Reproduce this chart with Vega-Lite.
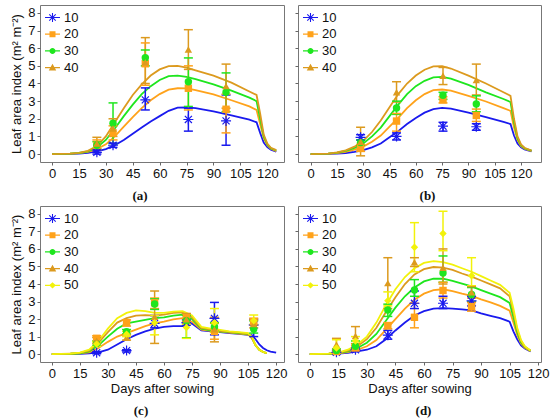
{
  "$schema": "https://vega.github.io/schema/vega-lite/v6.json",
  "background": "white",
  "padding": {"left": 10, "top": 4, "right": 5, "bottom": 2},
  "datasets": {
    "sim": [
      {"p":"a","c":"10","d":0,"v":0},{"p":"a","c":"10","d":10,"v":0.01},{"p":"a","c":"10","d":15,"v":0.03},{"p":"a","c":"10","d":20,"v":0.07},{"p":"a","c":"10","d":25,"v":0.15},{"p":"a","c":"10","d":30,"v":0.28},{"p":"a","c":"10","d":35,"v":0.5},{"p":"a","c":"10","d":40,"v":0.8},{"p":"a","c":"10","d":45,"v":1.15},{"p":"a","c":"10","d":50,"v":1.5},{"p":"a","c":"10","d":55,"v":1.85},{"p":"a","c":"10","d":60,"v":2.15},{"p":"a","c":"10","d":65,"v":2.45},{"p":"a","c":"10","d":70,"v":2.63},{"p":"a","c":"10","d":75,"v":2.65},{"p":"a","c":"10","d":80,"v":2.6},{"p":"a","c":"10","d":90,"v":2.42},{"p":"a","c":"10","d":100,"v":2.2},{"p":"a","c":"10","d":110,"v":1.95},{"p":"a","c":"10","d":114,"v":1.8},{"p":"a","c":"10","d":116,"v":1.2},{"p":"a","c":"10","d":118,"v":0.65},{"p":"a","c":"10","d":120,"v":0.4},{"p":"a","c":"10","d":122,"v":0.25},{"p":"a","c":"10","d":125,"v":0.13},
      {"p":"a","c":"20","d":0,"v":0},{"p":"a","c":"20","d":10,"v":0.02},{"p":"a","c":"20","d":15,"v":0.05},{"p":"a","c":"20","d":20,"v":0.12},{"p":"a","c":"20","d":25,"v":0.28},{"p":"a","c":"20","d":30,"v":0.55},{"p":"a","c":"20","d":35,"v":1.0},{"p":"a","c":"20","d":40,"v":1.55},{"p":"a","c":"20","d":45,"v":2.1},{"p":"a","c":"20","d":50,"v":2.6},{"p":"a","c":"20","d":55,"v":3.05},{"p":"a","c":"20","d":60,"v":3.4},{"p":"a","c":"20","d":65,"v":3.65},{"p":"a","c":"20","d":70,"v":3.73},{"p":"a","c":"20","d":75,"v":3.72},{"p":"a","c":"20","d":80,"v":3.62},{"p":"a","c":"20","d":90,"v":3.38},{"p":"a","c":"20","d":100,"v":3.05},{"p":"a","c":"20","d":110,"v":2.7},{"p":"a","c":"20","d":114,"v":2.5},{"p":"a","c":"20","d":116,"v":1.7},{"p":"a","c":"20","d":118,"v":0.9},{"p":"a","c":"20","d":120,"v":0.5},{"p":"a","c":"20","d":122,"v":0.3},{"p":"a","c":"20","d":125,"v":0.17},
      {"p":"a","c":"30","d":0,"v":0},{"p":"a","c":"30","d":10,"v":0.02},{"p":"a","c":"30","d":15,"v":0.06},{"p":"a","c":"30","d":20,"v":0.15},{"p":"a","c":"30","d":25,"v":0.38},{"p":"a","c":"30","d":30,"v":0.8},{"p":"a","c":"30","d":35,"v":1.45},{"p":"a","c":"30","d":40,"v":2.15},{"p":"a","c":"30","d":45,"v":2.8},{"p":"a","c":"30","d":50,"v":3.4},{"p":"a","c":"30","d":55,"v":3.85},{"p":"a","c":"30","d":60,"v":4.2},{"p":"a","c":"30","d":65,"v":4.42},{"p":"a","c":"30","d":70,"v":4.45},{"p":"a","c":"30","d":75,"v":4.38},{"p":"a","c":"30","d":80,"v":4.25},{"p":"a","c":"30","d":90,"v":3.95},{"p":"a","c":"30","d":100,"v":3.6},{"p":"a","c":"30","d":110,"v":3.2},{"p":"a","c":"30","d":114,"v":3.0},{"p":"a","c":"30","d":116,"v":2.0},{"p":"a","c":"30","d":118,"v":1.0},{"p":"a","c":"30","d":120,"v":0.55},{"p":"a","c":"30","d":122,"v":0.33},{"p":"a","c":"30","d":125,"v":0.2},
      {"p":"a","c":"40","d":0,"v":0},{"p":"a","c":"40","d":10,"v":0.03},{"p":"a","c":"40","d":15,"v":0.07},{"p":"a","c":"40","d":20,"v":0.18},{"p":"a","c":"40","d":25,"v":0.45},{"p":"a","c":"40","d":30,"v":1.0},{"p":"a","c":"40","d":35,"v":1.8},{"p":"a","c":"40","d":40,"v":2.6},{"p":"a","c":"40","d":45,"v":3.35},{"p":"a","c":"40","d":50,"v":3.95},{"p":"a","c":"40","d":55,"v":4.45},{"p":"a","c":"40","d":60,"v":4.8},{"p":"a","c":"40","d":65,"v":4.98},{"p":"a","c":"40","d":70,"v":5.0},{"p":"a","c":"40","d":75,"v":4.9},{"p":"a","c":"40","d":80,"v":4.75},{"p":"a","c":"40","d":90,"v":4.45},{"p":"a","c":"40","d":100,"v":4.05},{"p":"a","c":"40","d":110,"v":3.55},{"p":"a","c":"40","d":114,"v":3.35},{"p":"a","c":"40","d":116,"v":2.3},{"p":"a","c":"40","d":118,"v":1.1},{"p":"a","c":"40","d":120,"v":0.6},{"p":"a","c":"40","d":122,"v":0.36},{"p":"a","c":"40","d":125,"v":0.22},
      {"p":"b","c":"10","d":0,"v":0},{"p":"b","c":"10","d":10,"v":0.01},{"p":"b","c":"10","d":15,"v":0.03},{"p":"b","c":"10","d":20,"v":0.06},{"p":"b","c":"10","d":25,"v":0.12},{"p":"b","c":"10","d":30,"v":0.22},{"p":"b","c":"10","d":35,"v":0.38},{"p":"b","c":"10","d":40,"v":0.6},{"p":"b","c":"10","d":45,"v":0.95},{"p":"b","c":"10","d":50,"v":1.3},{"p":"b","c":"10","d":55,"v":1.7},{"p":"b","c":"10","d":60,"v":2.05},{"p":"b","c":"10","d":65,"v":2.35},{"p":"b","c":"10","d":70,"v":2.55},{"p":"b","c":"10","d":75,"v":2.62},{"p":"b","c":"10","d":80,"v":2.58},{"p":"b","c":"10","d":90,"v":2.35},{"p":"b","c":"10","d":100,"v":2.1},{"p":"b","c":"10","d":110,"v":1.82},{"p":"b","c":"10","d":114,"v":1.7},{"p":"b","c":"10","d":116,"v":1.05},{"p":"b","c":"10","d":118,"v":0.6},{"p":"b","c":"10","d":120,"v":0.38},{"p":"b","c":"10","d":122,"v":0.27},{"p":"b","c":"10","d":126,"v":0.15},
      {"p":"b","c":"20","d":0,"v":0},{"p":"b","c":"20","d":10,"v":0.02},{"p":"b","c":"20","d":15,"v":0.06},{"p":"b","c":"20","d":20,"v":0.13},{"p":"b","c":"20","d":25,"v":0.25},{"p":"b","c":"20","d":30,"v":0.42},{"p":"b","c":"20","d":35,"v":0.7},{"p":"b","c":"20","d":40,"v":1.05},{"p":"b","c":"20","d":45,"v":1.55},{"p":"b","c":"20","d":50,"v":2.05},{"p":"b","c":"20","d":55,"v":2.6},{"p":"b","c":"20","d":60,"v":3.05},{"p":"b","c":"20","d":65,"v":3.4},{"p":"b","c":"20","d":70,"v":3.62},{"p":"b","c":"20","d":75,"v":3.66},{"p":"b","c":"20","d":80,"v":3.6},{"p":"b","c":"20","d":90,"v":3.3},{"p":"b","c":"20","d":100,"v":2.98},{"p":"b","c":"20","d":110,"v":2.6},{"p":"b","c":"20","d":114,"v":2.45},{"p":"b","c":"20","d":116,"v":1.5},{"p":"b","c":"20","d":118,"v":0.8},{"p":"b","c":"20","d":120,"v":0.45},{"p":"b","c":"20","d":122,"v":0.3},{"p":"b","c":"20","d":126,"v":0.17},
      {"p":"b","c":"30","d":0,"v":0},{"p":"b","c":"30","d":10,"v":0.03},{"p":"b","c":"30","d":15,"v":0.08},{"p":"b","c":"30","d":20,"v":0.18},{"p":"b","c":"30","d":25,"v":0.35},{"p":"b","c":"30","d":30,"v":0.6},{"p":"b","c":"30","d":35,"v":1.0},{"p":"b","c":"30","d":40,"v":1.5},{"p":"b","c":"30","d":45,"v":2.15},{"p":"b","c":"30","d":50,"v":2.8},{"p":"b","c":"30","d":55,"v":3.4},{"p":"b","c":"30","d":60,"v":3.85},{"p":"b","c":"30","d":65,"v":4.15},{"p":"b","c":"30","d":70,"v":4.35},{"p":"b","c":"30","d":75,"v":4.38},{"p":"b","c":"30","d":80,"v":4.28},{"p":"b","c":"30","d":90,"v":3.92},{"p":"b","c":"30","d":100,"v":3.5},{"p":"b","c":"30","d":110,"v":3.12},{"p":"b","c":"30","d":114,"v":2.95},{"p":"b","c":"30","d":116,"v":1.8},{"p":"b","c":"30","d":118,"v":0.9},{"p":"b","c":"30","d":120,"v":0.5},{"p":"b","c":"30","d":122,"v":0.33},{"p":"b","c":"30","d":126,"v":0.19},
      {"p":"b","c":"40","d":0,"v":0},{"p":"b","c":"40","d":10,"v":0.03},{"p":"b","c":"40","d":15,"v":0.09},{"p":"b","c":"40","d":20,"v":0.21},{"p":"b","c":"40","d":25,"v":0.42},{"p":"b","c":"40","d":30,"v":0.75},{"p":"b","c":"40","d":35,"v":1.25},{"p":"b","c":"40","d":40,"v":1.9},{"p":"b","c":"40","d":45,"v":2.65},{"p":"b","c":"40","d":50,"v":3.4},{"p":"b","c":"40","d":55,"v":4.0},{"p":"b","c":"40","d":60,"v":4.45},{"p":"b","c":"40","d":65,"v":4.78},{"p":"b","c":"40","d":70,"v":4.97},{"p":"b","c":"40","d":75,"v":4.98},{"p":"b","c":"40","d":80,"v":4.85},{"p":"b","c":"40","d":90,"v":4.45},{"p":"b","c":"40","d":100,"v":4.0},{"p":"b","c":"40","d":110,"v":3.5},{"p":"b","c":"40","d":114,"v":3.3},{"p":"b","c":"40","d":116,"v":2.0},{"p":"b","c":"40","d":118,"v":1.0},{"p":"b","c":"40","d":120,"v":0.55},{"p":"b","c":"40","d":122,"v":0.36},{"p":"b","c":"40","d":126,"v":0.2},
      {"p":"c","c":"10","d":0,"v":0},{"p":"c","c":"10","d":10,"v":0.01},{"p":"c","c":"10","d":15,"v":0.02},{"p":"c","c":"10","d":20,"v":0.05},{"p":"c","c":"10","d":25,"v":0.1},{"p":"c","c":"10","d":30,"v":0.25},{"p":"c","c":"10","d":35,"v":0.55},{"p":"c","c":"10","d":40,"v":0.85},{"p":"c","c":"10","d":45,"v":1.1},{"p":"c","c":"10","d":50,"v":1.3},{"p":"c","c":"10","d":55,"v":1.45},{"p":"c","c":"10","d":60,"v":1.55},{"p":"c","c":"10","d":65,"v":1.6},{"p":"c","c":"10","d":70,"v":1.6},{"p":"c","c":"10","d":75,"v":1.75},{"p":"c","c":"10","d":80,"v":1.35},{"p":"c","c":"10","d":85,"v":1.3},{"p":"c","c":"10","d":90,"v":1.25},{"p":"c","c":"10","d":95,"v":1.2},{"p":"c","c":"10","d":100,"v":1.15},{"p":"c","c":"10","d":105,"v":1.1},{"p":"c","c":"10","d":107,"v":1.08},{"p":"c","c":"10","d":109,"v":0.85},{"p":"c","c":"10","d":111,"v":0.55},{"p":"c","c":"10","d":113,"v":0.35},{"p":"c","c":"10","d":115,"v":0.22},{"p":"c","c":"10","d":117,"v":0.14},{"p":"c","c":"10","d":120,"v":0.08},
      {"p":"c","c":"20","d":0,"v":0},{"p":"c","c":"20","d":10,"v":0.02},{"p":"c","c":"20","d":15,"v":0.04},{"p":"c","c":"20","d":20,"v":0.1},{"p":"c","c":"20","d":25,"v":0.35},{"p":"c","c":"20","d":30,"v":0.7},{"p":"c","c":"20","d":35,"v":1.0},{"p":"c","c":"20","d":40,"v":1.2},{"p":"c","c":"20","d":45,"v":1.4},{"p":"c","c":"20","d":50,"v":1.6},{"p":"c","c":"20","d":55,"v":1.75},{"p":"c","c":"20","d":60,"v":1.85},{"p":"c","c":"20","d":65,"v":1.98},{"p":"c","c":"20","d":70,"v":2.05},{"p":"c","c":"20","d":75,"v":1.85},{"p":"c","c":"20","d":80,"v":1.4},{"p":"c","c":"20","d":85,"v":1.32},{"p":"c","c":"20","d":90,"v":1.28},{"p":"c","c":"20","d":95,"v":1.22},{"p":"c","c":"20","d":100,"v":1.17},{"p":"c","c":"20","d":105,"v":1.12},{"p":"c","c":"20","d":107,"v":0.9},{"p":"c","c":"20","d":109,"v":0.5},{"p":"c","c":"20","d":111,"v":0.25},{"p":"c","c":"20","d":113,"v":0.12},{"p":"c","c":"20","d":115,"v":0.06},
      {"p":"c","c":"30","d":0,"v":0},{"p":"c","c":"30","d":10,"v":0.02},{"p":"c","c":"30","d":15,"v":0.05},{"p":"c","c":"30","d":20,"v":0.15},{"p":"c","c":"30","d":25,"v":0.5},{"p":"c","c":"30","d":30,"v":1.0},{"p":"c","c":"30","d":35,"v":1.45},{"p":"c","c":"30","d":40,"v":1.75},{"p":"c","c":"30","d":45,"v":1.85},{"p":"c","c":"30","d":50,"v":1.95},{"p":"c","c":"30","d":55,"v":2.05},{"p":"c","c":"30","d":60,"v":2.1},{"p":"c","c":"30","d":65,"v":2.2},{"p":"c","c":"30","d":70,"v":2.25},{"p":"c","c":"30","d":75,"v":2.0},{"p":"c","c":"30","d":80,"v":1.45},{"p":"c","c":"30","d":85,"v":1.35},{"p":"c","c":"30","d":90,"v":1.3},{"p":"c","c":"30","d":95,"v":1.25},{"p":"c","c":"30","d":100,"v":1.2},{"p":"c","c":"30","d":105,"v":1.15},{"p":"c","c":"30","d":107,"v":0.95},{"p":"c","c":"30","d":109,"v":0.5},{"p":"c","c":"30","d":111,"v":0.25},{"p":"c","c":"30","d":113,"v":0.12},{"p":"c","c":"30","d":115,"v":0.06},
      {"p":"c","c":"40","d":0,"v":0},{"p":"c","c":"40","d":10,"v":0.03},{"p":"c","c":"40","d":15,"v":0.07},{"p":"c","c":"40","d":20,"v":0.2},{"p":"c","c":"40","d":25,"v":0.65},{"p":"c","c":"40","d":30,"v":1.25},{"p":"c","c":"40","d":35,"v":1.8},{"p":"c","c":"40","d":40,"v":2.05},{"p":"c","c":"40","d":45,"v":2.2},{"p":"c","c":"40","d":50,"v":2.22},{"p":"c","c":"40","d":55,"v":2.2},{"p":"c","c":"40","d":60,"v":2.25},{"p":"c","c":"40","d":65,"v":2.35},{"p":"c","c":"40","d":70,"v":2.38},{"p":"c","c":"40","d":75,"v":2.1},{"p":"c","c":"40","d":80,"v":1.5},{"p":"c","c":"40","d":85,"v":1.4},{"p":"c","c":"40","d":90,"v":1.33},{"p":"c","c":"40","d":95,"v":1.27},{"p":"c","c":"40","d":100,"v":1.22},{"p":"c","c":"40","d":105,"v":1.17},{"p":"c","c":"40","d":107,"v":0.95},{"p":"c","c":"40","d":109,"v":0.5},{"p":"c","c":"40","d":111,"v":0.25},{"p":"c","c":"40","d":113,"v":0.12},{"p":"c","c":"40","d":115,"v":0.06},
      {"p":"c","c":"50","d":0,"v":0},{"p":"c","c":"50","d":10,"v":0.03},{"p":"c","c":"50","d":15,"v":0.08},{"p":"c","c":"50","d":20,"v":0.25},{"p":"c","c":"50","d":25,"v":0.75},{"p":"c","c":"50","d":30,"v":1.45},{"p":"c","c":"50","d":35,"v":2.05},{"p":"c","c":"50","d":40,"v":2.35},{"p":"c","c":"50","d":45,"v":2.5},{"p":"c","c":"50","d":50,"v":2.45},{"p":"c","c":"50","d":55,"v":2.35},{"p":"c","c":"50","d":60,"v":2.35},{"p":"c","c":"50","d":65,"v":2.42},{"p":"c","c":"50","d":70,"v":2.45},{"p":"c","c":"50","d":75,"v":2.2},{"p":"c","c":"50","d":80,"v":1.55},{"p":"c","c":"50","d":85,"v":1.45},{"p":"c","c":"50","d":90,"v":1.38},{"p":"c","c":"50","d":95,"v":1.3},{"p":"c","c":"50","d":100,"v":1.25},{"p":"c","c":"50","d":105,"v":1.2},{"p":"c","c":"50","d":107,"v":1.0},{"p":"c","c":"50","d":109,"v":0.5},{"p":"c","c":"50","d":111,"v":0.25},{"p":"c","c":"50","d":113,"v":0.12},{"p":"c","c":"50","d":115,"v":0.06},
      {"p":"d","c":"10","d":0,"v":0},{"p":"d","c":"10","d":10,"v":0.01},{"p":"d","c":"10","d":15,"v":0.03},{"p":"d","c":"10","d":20,"v":0.07},{"p":"d","c":"10","d":25,"v":0.15},{"p":"d","c":"10","d":30,"v":0.25},{"p":"d","c":"10","d":35,"v":0.45},{"p":"d","c":"10","d":40,"v":0.85},{"p":"d","c":"10","d":45,"v":1.35},{"p":"d","c":"10","d":50,"v":1.8},{"p":"d","c":"10","d":55,"v":2.2},{"p":"d","c":"10","d":60,"v":2.45},{"p":"d","c":"10","d":65,"v":2.6},{"p":"d","c":"10","d":70,"v":2.62},{"p":"d","c":"10","d":75,"v":2.6},{"p":"d","c":"10","d":80,"v":2.55},{"p":"d","c":"10","d":85,"v":2.5},{"p":"d","c":"10","d":90,"v":2.32},{"p":"d","c":"10","d":95,"v":2.18},{"p":"d","c":"10","d":100,"v":2.05},{"p":"d","c":"10","d":105,"v":1.85},{"p":"d","c":"10","d":107,"v":1.3},{"p":"d","c":"10","d":109,"v":0.85},{"p":"d","c":"10","d":111,"v":0.5},{"p":"d","c":"10","d":113,"v":0.32},{"p":"d","c":"10","d":116,"v":0.15},
      {"p":"d","c":"20","d":0,"v":0},{"p":"d","c":"20","d":10,"v":0.02},{"p":"d","c":"20","d":15,"v":0.05},{"p":"d","c":"20","d":20,"v":0.12},{"p":"d","c":"20","d":25,"v":0.25},{"p":"d","c":"20","d":30,"v":0.45},{"p":"d","c":"20","d":35,"v":0.8},{"p":"d","c":"20","d":40,"v":1.4},{"p":"d","c":"20","d":45,"v":2.0},{"p":"d","c":"20","d":50,"v":2.6},{"p":"d","c":"20","d":55,"v":3.1},{"p":"d","c":"20","d":60,"v":3.45},{"p":"d","c":"20","d":65,"v":3.65},{"p":"d","c":"20","d":70,"v":3.7},{"p":"d","c":"20","d":75,"v":3.6},{"p":"d","c":"20","d":80,"v":3.45},{"p":"d","c":"20","d":85,"v":3.32},{"p":"d","c":"20","d":90,"v":3.12},{"p":"d","c":"20","d":95,"v":2.95},{"p":"d","c":"20","d":100,"v":2.75},{"p":"d","c":"20","d":105,"v":2.48},{"p":"d","c":"20","d":107,"v":1.8},{"p":"d","c":"20","d":109,"v":1.1},{"p":"d","c":"20","d":111,"v":0.6},{"p":"d","c":"20","d":113,"v":0.36},{"p":"d","c":"20","d":116,"v":0.17},
      {"p":"d","c":"30","d":0,"v":0},{"p":"d","c":"30","d":10,"v":0.02},{"p":"d","c":"30","d":15,"v":0.06},{"p":"d","c":"30","d":20,"v":0.15},{"p":"d","c":"30","d":25,"v":0.35},{"p":"d","c":"30","d":30,"v":0.65},{"p":"d","c":"30","d":35,"v":1.15},{"p":"d","c":"30","d":40,"v":1.9},{"p":"d","c":"30","d":45,"v":2.65},{"p":"d","c":"30","d":50,"v":3.3},{"p":"d","c":"30","d":55,"v":3.8},{"p":"d","c":"30","d":60,"v":4.15},{"p":"d","c":"30","d":65,"v":4.3},{"p":"d","c":"30","d":70,"v":4.3},{"p":"d","c":"30","d":75,"v":4.18},{"p":"d","c":"30","d":80,"v":4.02},{"p":"d","c":"30","d":85,"v":3.86},{"p":"d","c":"30","d":90,"v":3.65},{"p":"d","c":"30","d":95,"v":3.45},{"p":"d","c":"30","d":100,"v":3.25},{"p":"d","c":"30","d":105,"v":2.92},{"p":"d","c":"30","d":107,"v":2.1},{"p":"d","c":"30","d":109,"v":1.25},{"p":"d","c":"30","d":111,"v":0.68},{"p":"d","c":"30","d":113,"v":0.4},{"p":"d","c":"30","d":116,"v":0.19},
      {"p":"d","c":"40","d":0,"v":0},{"p":"d","c":"40","d":10,"v":0.03},{"p":"d","c":"40","d":15,"v":0.07},{"p":"d","c":"40","d":20,"v":0.2},{"p":"d","c":"40","d":25,"v":0.45},{"p":"d","c":"40","d":30,"v":0.85},{"p":"d","c":"40","d":35,"v":1.5},{"p":"d","c":"40","d":40,"v":2.4},{"p":"d","c":"40","d":45,"v":3.25},{"p":"d","c":"40","d":50,"v":4.0},{"p":"d","c":"40","d":55,"v":4.55},{"p":"d","c":"40","d":60,"v":4.85},{"p":"d","c":"40","d":65,"v":4.97},{"p":"d","c":"40","d":70,"v":4.93},{"p":"d","c":"40","d":75,"v":4.8},{"p":"d","c":"40","d":80,"v":4.6},{"p":"d","c":"40","d":85,"v":4.42},{"p":"d","c":"40","d":90,"v":4.2},{"p":"d","c":"40","d":95,"v":3.98},{"p":"d","c":"40","d":100,"v":3.75},{"p":"d","c":"40","d":105,"v":3.3},{"p":"d","c":"40","d":107,"v":2.4},{"p":"d","c":"40","d":109,"v":1.4},{"p":"d","c":"40","d":111,"v":0.75},{"p":"d","c":"40","d":113,"v":0.42},{"p":"d","c":"40","d":116,"v":0.2},
      {"p":"d","c":"50","d":0,"v":0},{"p":"d","c":"50","d":10,"v":0.03},{"p":"d","c":"50","d":15,"v":0.08},{"p":"d","c":"50","d":20,"v":0.25},{"p":"d","c":"50","d":25,"v":0.55},{"p":"d","c":"50","d":30,"v":1.0},{"p":"d","c":"50","d":35,"v":1.8},{"p":"d","c":"50","d":40,"v":2.8},{"p":"d","c":"50","d":45,"v":3.7},{"p":"d","c":"50","d":50,"v":4.4},{"p":"d","c":"50","d":55,"v":4.9},{"p":"d","c":"50","d":60,"v":5.2},{"p":"d","c":"50","d":65,"v":5.3},{"p":"d","c":"50","d":70,"v":5.25},{"p":"d","c":"50","d":75,"v":5.1},{"p":"d","c":"50","d":80,"v":4.9},{"p":"d","c":"50","d":85,"v":4.7},{"p":"d","c":"50","d":90,"v":4.45},{"p":"d","c":"50","d":95,"v":4.2},{"p":"d","c":"50","d":100,"v":3.95},{"p":"d","c":"50","d":105,"v":3.5},{"p":"d","c":"50","d":107,"v":2.6},{"p":"d","c":"50","d":109,"v":1.5},{"p":"d","c":"50","d":111,"v":0.8},{"p":"d","c":"50","d":113,"v":0.45},{"p":"d","c":"50","d":116,"v":0.2}
    ],
    "obs": [
      {"p":"a","c":"10","d":25,"v":0.1,"lo":0.0,"hi":0.22},{"p":"a","c":"10","d":34,"v":0.5,"lo":0.38,"hi":0.62},{"p":"a","c":"10","d":52,"v":3.07,"lo":2.5,"hi":3.75},{"p":"a","c":"10","d":76,"v":1.96,"lo":1.3,"hi":2.6},{"p":"a","c":"10","d":97,"v":1.88,"lo":0.5,"hi":3.35},
      {"p":"a","c":"20","d":25,"v":0.5,"lo":0.22,"hi":0.8},{"p":"a","c":"20","d":34,"v":1.2,"lo":0.8,"hi":1.6},{"p":"a","c":"20","d":52,"v":5.12,"lo":3.9,"hi":6.3},{"p":"a","c":"20","d":76,"v":3.73,"lo":2.5,"hi":5.0},{"p":"a","c":"20","d":97,"v":2.54,"lo":1.2,"hi":3.4},
      {"p":"a","c":"30","d":25,"v":0.5,"lo":0.3,"hi":0.7},{"p":"a","c":"30","d":34,"v":1.75,"lo":0.6,"hi":2.9},{"p":"a","c":"30","d":52,"v":5.46,"lo":5.0,"hi":5.9},{"p":"a","c":"30","d":76,"v":4.1,"lo":2.7,"hi":5.45},{"p":"a","c":"30","d":97,"v":3.5,"lo":2.4,"hi":4.6},
      {"p":"a","c":"40","d":25,"v":0.6,"lo":0.3,"hi":0.95},{"p":"a","c":"40","d":34,"v":1.45,"lo":1.0,"hi":2.0},{"p":"a","c":"40","d":52,"v":5.2,"lo":4.0,"hi":6.6},{"p":"a","c":"40","d":76,"v":5.93,"lo":4.8,"hi":7.05},{"p":"a","c":"40","d":97,"v":3.85,"lo":2.6,"hi":5.1},
      {"p":"b","c":"10","d":28.5,"v":0.95,"lo":0.8,"hi":1.1},{"p":"b","c":"10","d":49,"v":1.0,"lo":0.8,"hi":1.2},{"p":"b","c":"10","d":75.5,"v":1.58,"lo":1.3,"hi":1.8},{"p":"b","c":"10","d":94.5,"v":1.55,"lo":1.35,"hi":1.72},
      {"p":"b","c":"20","d":28.5,"v":0.35,"lo":0.15,"hi":0.55},{"p":"b","c":"20","d":49,"v":1.87,"lo":1.3,"hi":2.3},{"p":"b","c":"20","d":75.5,"v":3.08,"lo":2.9,"hi":3.25},{"p":"b","c":"20","d":94.5,"v":2.19,"lo":1.85,"hi":2.55},
      {"p":"b","c":"30","d":28.5,"v":0.65,"lo":0.5,"hi":0.8},{"p":"b","c":"30","d":49,"v":2.61,"lo":2.25,"hi":3.0},{"p":"b","c":"30","d":75.5,"v":3.33,"lo":3.1,"hi":3.5},{"p":"b","c":"30","d":94.5,"v":2.84,"lo":2.4,"hi":3.3},
      {"p":"b","c":"40","d":28.5,"v":0.7,"lo":-0.1,"hi":1.52},{"p":"b","c":"40","d":49,"v":3.5,"lo":2.95,"hi":4.1},{"p":"b","c":"40","d":75.5,"v":4.44,"lo":3.94,"hi":4.91},{"p":"b","c":"40","d":94.5,"v":4.19,"lo":3.35,"hi":5.1},
      {"p":"c","c":"10","d":24,"v":0.08,"lo":0.02,"hi":0.14},{"p":"c","c":"10","d":40,"v":0.2,"lo":0.12,"hi":0.25},{"p":"c","c":"10","d":55,"v":1.75,"lo":1.5,"hi":2.2},{"p":"c","c":"10","d":72,"v":1.8,"lo":1.65,"hi":1.95},{"p":"c","c":"10","d":87,"v":2.04,"lo":1.1,"hi":2.95},{"p":"c","c":"10","d":108,"v":1.66,"lo":1.0,"hi":2.0},
      {"p":"c","c":"20","d":24,"v":0.9,"lo":0.7,"hi":1.05},{"p":"c","c":"20","d":40,"v":1.79,"lo":1.6,"hi":1.95},{"p":"c","c":"20","d":55,"v":2.93,"lo":2.6,"hi":3.2},{"p":"c","c":"20","d":72,"v":2.08,"lo":1.85,"hi":2.3},{"p":"c","c":"20","d":87,"v":1.3,"lo":0.85,"hi":1.75},{"p":"c","c":"20","d":108,"v":1.85,"lo":1.65,"hi":2.05},
      {"p":"c","c":"30","d":24,"v":0.6,"lo":0.5,"hi":0.75},{"p":"c","c":"30","d":40,"v":1.28,"lo":1.15,"hi":1.4},{"p":"c","c":"30","d":55,"v":2.86,"lo":2.55,"hi":3.15},{"p":"c","c":"30","d":72,"v":1.9,"lo":0.93,"hi":2.2},{"p":"c","c":"30","d":87,"v":1.56,"lo":1.3,"hi":1.8},{"p":"c","c":"30","d":108,"v":1.43,"lo":1.2,"hi":1.9},
      {"p":"c","c":"40","d":24,"v":0.76,"lo":0.6,"hi":0.95},{"p":"c","c":"40","d":40,"v":0.95,"lo":0.8,"hi":1.1},{"p":"c","c":"40","d":55,"v":2.13,"lo":0.61,"hi":3.6},{"p":"c","c":"40","d":72,"v":1.98,"lo":1.75,"hi":2.32},{"p":"c","c":"40","d":87,"v":1.41,"lo":0.7,"hi":2.1},{"p":"c","c":"40","d":108,"v":1.71,"lo":1.5,"hi":1.95},
      {"p":"c","c":"50","d":24,"v":0.57,"lo":0.45,"hi":0.7},{"p":"c","c":"50","d":40,"v":1.14,"lo":1.0,"hi":1.3},{"p":"c","c":"50","d":55,"v":1.79,"lo":1.1,"hi":2.2},{"p":"c","c":"50","d":72,"v":1.52,"lo":0.9,"hi":1.7},{"p":"c","c":"50","d":87,"v":1.79,"lo":1.25,"hi":2.6},{"p":"c","c":"50","d":108,"v":1.9,"lo":1.7,"hi":2.23},
      {"p":"d","c":"10","d":14,"v":0.1,"lo":0.0,"hi":0.2},{"p":"d","c":"10","d":24,"v":0.25,"lo":0.15,"hi":0.35},{"p":"d","c":"10","d":41,"v":1.08,"lo":0.85,"hi":1.35},{"p":"d","c":"10","d":55,"v":2.9,"lo":2.6,"hi":3.6},{"p":"d","c":"10","d":70,"v":2.9,"lo":2.6,"hi":3.3},{"p":"d","c":"10","d":85,"v":3.04,"lo":2.75,"hi":3.3},
      {"p":"d","c":"20","d":14,"v":0.15,"lo":0.05,"hi":0.25},{"p":"d","c":"20","d":24,"v":0.35,"lo":0.2,"hi":0.5},{"p":"d","c":"20","d":41,"v":1.62,"lo":1.45,"hi":1.8},{"p":"d","c":"20","d":55,"v":2.1,"lo":1.5,"hi":2.9},{"p":"d","c":"20","d":70,"v":3.63,"lo":3.2,"hi":4.1},{"p":"d","c":"20","d":85,"v":2.71,"lo":2.45,"hi":2.95},
      {"p":"d","c":"30","d":14,"v":0.2,"lo":0.1,"hi":0.3},{"p":"d","c":"30","d":24,"v":0.45,"lo":0.3,"hi":0.75},{"p":"d","c":"30","d":41,"v":2.52,"lo":2.15,"hi":2.85},{"p":"d","c":"30","d":55,"v":3.66,"lo":3.3,"hi":4.25},{"p":"d","c":"30","d":70,"v":4.63,"lo":4.1,"hi":5.6},{"p":"d","c":"30","d":85,"v":3.4,"lo":3.0,"hi":3.8},
      {"p":"d","c":"40","d":14,"v":0.54,"lo":0.2,"hi":0.9},{"p":"d","c":"40","d":24,"v":1.03,"lo":0.6,"hi":1.57},{"p":"d","c":"40","d":41,"v":4.05,"lo":2.6,"hi":5.5},{"p":"d","c":"40","d":55,"v":5.24,"lo":5.0,"hi":5.5},{"p":"d","c":"40","d":70,"v":4.93,"lo":4.0,"hi":6.0},{"p":"d","c":"40","d":85,"v":3.52,"lo":3.2,"hi":3.85},
      {"p":"d","c":"50","d":14,"v":0.35,"lo":0.1,"hi":0.82},{"p":"d","c":"50","d":24,"v":0.75,"lo":0.5,"hi":1.0},{"p":"d","c":"50","d":41,"v":3.05,"lo":2.75,"hi":3.55},{"p":"d","c":"50","d":55,"v":6.1,"lo":4.7,"hi":7.5},{"p":"d","c":"50","d":70,"v":6.88,"lo":5.9,"hi":8.15},{"p":"d","c":"50","d":85,"v":4.47,"lo":3.9,"hi":5.5}
    ]
  },
  "spacing": 1,
  "resolve": {"scale": {"fill": "independent", "shape": "independent"}},
  "vconcat": [
    {
      "spacing": 9,
      "resolve": {"scale": {"fill": "independent", "shape": "independent"}},
      "hconcat": [
        {
          "width": 244, "height": 157,
          "title": {"text": "(a)", "dx": -22},
          "encoding": {
            "x": {"field": "d", "type": "quantitative", "title": null, "scale": {"domain": [-6.7, 129.3], "nice": false, "zero": false}, "axis": {"values": [0,15,30,45,60,75,90,105,120]}},
            "color": {"field": "c", "type": "nominal", "legend": null, "scale": {"domain": ["10","20","30","40","50"], "range": ["#1a1aee","#ffa21a","#1ee61e","#dc9a1e","#f2f20a"]}}
          },
          "layer": [
            {
              "data": {"name": "sim"},
              "transform": [{"filter": "datum.p == 'a'"}],
              "mark": {"type": "line", "strokeWidth": 1.8},
              "encoding": {"y": {"field": "v", "type": "quantitative", "title": "Leaf area index (m² m⁻²)", "scale": {"domain": [-0.45, 8.45], "nice": false, "zero": false}, "axis": {"values": [0,1,2,3,4,5,6,7,8]}}}
            },
            {
              "data": {"name": "obs"},
              "transform": [{"filter": "datum.p == 'a'"}],
              "mark": {"type": "rule", "strokeWidth": 1.5},
              "encoding": {"y": {"field": "lo", "type": "quantitative", "title": "Leaf area index (m² m⁻²)", "scale": {"domain": [-0.45, 8.45], "nice": false, "zero": false}, "axis": {"values": [0,1,2,3,4,5,6,7,8]}}, "y2": {"field": "hi"}}
            },
            {
              "data": {"name": "obs"},
              "transform": [{"filter": "datum.p == 'a'"}],
              "mark": {"type": "tick", "orient": "horizontal", "size": 9, "thickness": 1.5, "opacity": 1},
              "encoding": {"y": {"field": "lo", "type": "quantitative", "title": "Leaf area index (m² m⁻²)", "scale": {"domain": [-0.45, 8.45], "nice": false, "zero": false}, "axis": {"values": [0,1,2,3,4,5,6,7,8]}}}
            },
            {
              "data": {"name": "obs"},
              "transform": [{"filter": "datum.p == 'a'"}],
              "mark": {"type": "tick", "orient": "horizontal", "size": 9, "thickness": 1.5, "opacity": 1},
              "encoding": {"y": {"field": "hi", "type": "quantitative", "title": "Leaf area index (m² m⁻²)", "scale": {"domain": [-0.45, 8.45], "nice": false, "zero": false}, "axis": {"values": [0,1,2,3,4,5,6,7,8]}}}
            },
            {
              "data": {"name": "obs"},
              "transform": [{"filter": "datum.p == 'a'"}],
              "mark": {"type": "point", "filled": true, "size": 55, "opacity": 1},
              "encoding": {
                "y": {"field": "v", "type": "quantitative", "title": "Leaf area index (m² m⁻²)", "scale": {"domain": [-0.45, 8.45], "nice": false, "zero": false}, "axis": {"values": [0,1,2,3,4,5,6,7,8]}},
                "shape": {"condition": [
                  {"test": "datum.c == '10'", "value": "M-1.35,-0.16L1.35,-0.16L1.35,0.16L-1.35,0.16Z M-0.16,-1.35L0.16,-1.35L0.16,1.35L-0.16,1.35Z M-0.84,-1.07L1.07,0.84L0.84,1.07L-1.07,-0.84Z M-1.07,0.84L0.84,-1.07L1.07,-0.84L-0.84,1.07Z"},
                  {"test": "datum.c == '20'", "value": "square"},
                  {"test": "datum.c == '30'", "value": "circle"},
                  {"test": "datum.c == '40'", "value": "triangle-up"}
                ], "value": "diamond"}
              }
            },
            {
              "data": {"values": []},
              "mark": {"type": "point", "filled": true, "opacity": 1},
              "encoding": {
                "x": null, "color": null,
                "fill": {"field": "c", "type": "nominal", "legend": {"title": null}, "scale": {"domain": ["10","20","30","40"], "range": ["#1a1aee","#ffa21a","#1ee61e","#dc9a1e"]}},
                "shape": {"field": "c", "type": "nominal", "legend": {"title": null}, "scale": {"domain": ["10","20","30","40"], "range": [
                  "M-1,-0.08L1,-0.08L1,0.08L-1,0.08Z M-0.07,-0.6L0.07,-0.6L0.07,0.6L-0.07,0.6Z M-0.38,-0.48L0.48,0.38L0.38,0.48L-0.48,-0.38Z M-0.48,0.38L0.38,-0.48L0.48,-0.38L-0.38,0.48Z",
                  "M-1,-0.08L1,-0.08L1,0.08L-1,0.08Z M-0.4,-0.4L0.4,-0.4L0.4,0.4L-0.4,0.4Z",
                  "M-1,-0.08L1,-0.08L1,0.08L-1,0.08Z M0.4,0A0.4,0.4 0 1 1 -0.4,0A0.4,0.4 0 1 1 0.4,0Z",
                  "M-1,-0.08L1,-0.08L1,0.08L-1,0.08Z M0,-0.5L0.5,0.38L-0.5,0.38Z"
                ]}}
              }
            }
          ]
        },
        {
          "width": 243, "height": 157,
          "title": {"text": "(b)", "dx": 8},
          "encoding": {
            "x": {"field": "d", "type": "quantitative", "title": null, "scale": {"domain": [-7.2, 131.4], "nice": false, "zero": false}, "axis": {"values": [0,15,30,45,60,75,90,105,120]}},
            "color": {"field": "c", "type": "nominal", "legend": null}
          },
          "layer": [
            {
              "data": {"name": "sim"},
              "transform": [{"filter": "datum.p == 'b'"}],
              "mark": {"type": "line", "strokeWidth": 1.8},
              "encoding": {"y": {"field": "v", "type": "quantitative", "title": null, "scale": {"domain": [-0.45, 8.45], "nice": false, "zero": false}, "axis": {"values": [0,1,2,3,4,5,6,7,8], "labels": false}}}
            },
            {
              "data": {"name": "obs"},
              "transform": [{"filter": "datum.p == 'b'"}],
              "mark": {"type": "rule", "strokeWidth": 1.5},
              "encoding": {"y": {"field": "lo", "type": "quantitative", "title": null, "scale": {"domain": [-0.45, 8.45], "nice": false, "zero": false}, "axis": {"values": [0,1,2,3,4,5,6,7,8], "labels": false}}, "y2": {"field": "hi"}}
            },
            {
              "data": {"name": "obs"},
              "transform": [{"filter": "datum.p == 'b'"}],
              "mark": {"type": "tick", "orient": "horizontal", "size": 9, "thickness": 1.5, "opacity": 1},
              "encoding": {"y": {"field": "lo", "type": "quantitative", "title": null, "scale": {"domain": [-0.45, 8.45], "nice": false, "zero": false}, "axis": {"values": [0,1,2,3,4,5,6,7,8], "labels": false}}}
            },
            {
              "data": {"name": "obs"},
              "transform": [{"filter": "datum.p == 'b'"}],
              "mark": {"type": "tick", "orient": "horizontal", "size": 9, "thickness": 1.5, "opacity": 1},
              "encoding": {"y": {"field": "hi", "type": "quantitative", "title": null, "scale": {"domain": [-0.45, 8.45], "nice": false, "zero": false}, "axis": {"values": [0,1,2,3,4,5,6,7,8], "labels": false}}}
            },
            {
              "data": {"name": "obs"},
              "transform": [{"filter": "datum.p == 'b'"}],
              "mark": {"type": "point", "filled": true, "size": 55, "opacity": 1},
              "encoding": {
                "y": {"field": "v", "type": "quantitative", "title": null, "scale": {"domain": [-0.45, 8.45], "nice": false, "zero": false}, "axis": {"values": [0,1,2,3,4,5,6,7,8], "labels": false}},
                "shape": {"condition": [
                  {"test": "datum.c == '10'", "value": "M-1.35,-0.16L1.35,-0.16L1.35,0.16L-1.35,0.16Z M-0.16,-1.35L0.16,-1.35L0.16,1.35L-0.16,1.35Z M-0.84,-1.07L1.07,0.84L0.84,1.07L-1.07,-0.84Z M-1.07,0.84L0.84,-1.07L1.07,-0.84L-0.84,1.07Z"},
                  {"test": "datum.c == '20'", "value": "square"},
                  {"test": "datum.c == '30'", "value": "circle"},
                  {"test": "datum.c == '40'", "value": "triangle-up"}
                ], "value": "diamond"}
              }
            },
            {
              "data": {"values": []},
              "mark": {"type": "point", "filled": true, "opacity": 1},
              "encoding": {
                "x": null, "color": null,
                "fill": {"field": "c", "type": "nominal", "legend": {"title": null}, "scale": {"domain": ["10","20","30","40"], "range": ["#1a1aee","#ffa21a","#1ee61e","#dc9a1e"]}},
                "shape": {"field": "c", "type": "nominal", "legend": {"title": null}, "scale": {"domain": ["10","20","30","40"], "range": [
                  "M-1,-0.08L1,-0.08L1,0.08L-1,0.08Z M-0.07,-0.6L0.07,-0.6L0.07,0.6L-0.07,0.6Z M-0.38,-0.48L0.48,0.38L0.38,0.48L-0.48,-0.38Z M-0.48,0.38L0.38,-0.48L0.48,-0.38L-0.38,0.48Z",
                  "M-1,-0.08L1,-0.08L1,0.08L-1,0.08Z M-0.4,-0.4L0.4,-0.4L0.4,0.4L-0.4,0.4Z",
                  "M-1,-0.08L1,-0.08L1,0.08L-1,0.08Z M0.4,0A0.4,0.4 0 1 1 -0.4,0A0.4,0.4 0 1 1 0.4,0Z",
                  "M-1,-0.08L1,-0.08L1,0.08L-1,0.08Z M0,-0.5L0.5,0.38L-0.5,0.38Z"
                ]}}
              }
            }
          ]
        }
      ]
    },
    {
      "spacing": 6,
      "resolve": {"scale": {"fill": "independent", "shape": "independent"}},
      "hconcat": [
        {
          "width": 244, "height": 156,
          "title": {"text": "(c)", "dx": -21},
          "encoding": {
            "x": {"field": "d", "type": "quantitative", "title": "Days after sowing", "scale": {"domain": [-6.3, 124.2], "nice": false, "zero": false}, "axis": {"values": [0,15,30,45,60,75,90,105,120]}},
            "color": {"field": "c", "type": "nominal", "legend": null}
          },
          "layer": [
            {
              "data": {"name": "sim"},
              "transform": [{"filter": "datum.p == 'c'"}],
              "mark": {"type": "line", "strokeWidth": 1.8},
              "encoding": {"y": {"field": "v", "type": "quantitative", "title": "Leaf area index (m² m⁻²)", "scale": {"domain": [-0.45, 8.45], "nice": false, "zero": false}, "axis": {"values": [0,1,2,3,4,5,6,7,8]}}}
            },
            {
              "data": {"name": "obs"},
              "transform": [{"filter": "datum.p == 'c'"}],
              "mark": {"type": "rule", "strokeWidth": 1.5},
              "encoding": {"y": {"field": "lo", "type": "quantitative", "title": "Leaf area index (m² m⁻²)", "scale": {"domain": [-0.45, 8.45], "nice": false, "zero": false}, "axis": {"values": [0,1,2,3,4,5,6,7,8]}}, "y2": {"field": "hi"}}
            },
            {
              "data": {"name": "obs"},
              "transform": [{"filter": "datum.p == 'c'"}],
              "mark": {"type": "tick", "orient": "horizontal", "size": 9, "thickness": 1.5, "opacity": 1},
              "encoding": {"y": {"field": "lo", "type": "quantitative", "title": "Leaf area index (m² m⁻²)", "scale": {"domain": [-0.45, 8.45], "nice": false, "zero": false}, "axis": {"values": [0,1,2,3,4,5,6,7,8]}}}
            },
            {
              "data": {"name": "obs"},
              "transform": [{"filter": "datum.p == 'c'"}],
              "mark": {"type": "tick", "orient": "horizontal", "size": 9, "thickness": 1.5, "opacity": 1},
              "encoding": {"y": {"field": "hi", "type": "quantitative", "title": "Leaf area index (m² m⁻²)", "scale": {"domain": [-0.45, 8.45], "nice": false, "zero": false}, "axis": {"values": [0,1,2,3,4,5,6,7,8]}}}
            },
            {
              "data": {"name": "obs"},
              "transform": [{"filter": "datum.p == 'c'"}],
              "mark": {"type": "point", "filled": true, "size": 55, "opacity": 1},
              "encoding": {
                "y": {"field": "v", "type": "quantitative", "title": "Leaf area index (m² m⁻²)", "scale": {"domain": [-0.45, 8.45], "nice": false, "zero": false}, "axis": {"values": [0,1,2,3,4,5,6,7,8]}},
                "shape": {"condition": [
                  {"test": "datum.c == '10'", "value": "M-1.35,-0.16L1.35,-0.16L1.35,0.16L-1.35,0.16Z M-0.16,-1.35L0.16,-1.35L0.16,1.35L-0.16,1.35Z M-0.84,-1.07L1.07,0.84L0.84,1.07L-1.07,-0.84Z M-1.07,0.84L0.84,-1.07L1.07,-0.84L-0.84,1.07Z"},
                  {"test": "datum.c == '20'", "value": "square"},
                  {"test": "datum.c == '30'", "value": "circle"},
                  {"test": "datum.c == '40'", "value": "triangle-up"}
                ], "value": "diamond"}
              }
            },
            {
              "data": {"values": []},
              "mark": {"type": "point", "filled": true, "opacity": 1},
              "encoding": {
                "x": null, "color": null,
                "fill": {"field": "c", "type": "nominal", "legend": {"title": null}, "scale": {"domain": ["10","20","30","40","50"], "range": ["#1a1aee","#ffa21a","#1ee61e","#dc9a1e","#f2f20a"]}},
                "shape": {"field": "c", "type": "nominal", "legend": {"title": null}, "scale": {"domain": ["10","20","30","40","50"], "range": [
                  "M-1,-0.08L1,-0.08L1,0.08L-1,0.08Z M-0.07,-0.6L0.07,-0.6L0.07,0.6L-0.07,0.6Z M-0.38,-0.48L0.48,0.38L0.38,0.48L-0.48,-0.38Z M-0.48,0.38L0.38,-0.48L0.48,-0.38L-0.38,0.48Z",
                  "M-1,-0.08L1,-0.08L1,0.08L-1,0.08Z M-0.4,-0.4L0.4,-0.4L0.4,0.4L-0.4,0.4Z",
                  "M-1,-0.08L1,-0.08L1,0.08L-1,0.08Z M0.4,0A0.4,0.4 0 1 1 -0.4,0A0.4,0.4 0 1 1 0.4,0Z",
                  "M-1,-0.08L1,-0.08L1,0.08L-1,0.08Z M0,-0.5L0.5,0.38L-0.5,0.38Z",
                  "M-1,-0.08L1,-0.08L1,0.08L-1,0.08Z M0,-0.42L0.45,0L0,0.42L-0.45,0Z"
                ]}}
              }
            }
          ]
        },
        {
          "width": 243, "height": 156,
          "title": {"text": "(d)", "dx": 4},
          "encoding": {
            "x": {"field": "d", "type": "quantitative", "title": "Days after sowing", "scale": {"domain": [-6.2, 121.5], "nice": false, "zero": false}, "axis": {"values": [0,15,30,45,60,75,90,105,120]}},
            "color": {"field": "c", "type": "nominal", "legend": null}
          },
          "layer": [
            {
              "data": {"name": "sim"},
              "transform": [{"filter": "datum.p == 'd'"}],
              "mark": {"type": "line", "strokeWidth": 1.8},
              "encoding": {"y": {"field": "v", "type": "quantitative", "title": null, "scale": {"domain": [-0.45, 8.45], "nice": false, "zero": false}, "axis": {"values": [0,1,2,3,4,5,6,7,8], "labels": false}}}
            },
            {
              "data": {"name": "obs"},
              "transform": [{"filter": "datum.p == 'd'"}],
              "mark": {"type": "rule", "strokeWidth": 1.5},
              "encoding": {"y": {"field": "lo", "type": "quantitative", "title": null, "scale": {"domain": [-0.45, 8.45], "nice": false, "zero": false}, "axis": {"values": [0,1,2,3,4,5,6,7,8], "labels": false}}, "y2": {"field": "hi"}}
            },
            {
              "data": {"name": "obs"},
              "transform": [{"filter": "datum.p == 'd'"}],
              "mark": {"type": "tick", "orient": "horizontal", "size": 9, "thickness": 1.5, "opacity": 1},
              "encoding": {"y": {"field": "lo", "type": "quantitative", "title": null, "scale": {"domain": [-0.45, 8.45], "nice": false, "zero": false}, "axis": {"values": [0,1,2,3,4,5,6,7,8], "labels": false}}}
            },
            {
              "data": {"name": "obs"},
              "transform": [{"filter": "datum.p == 'd'"}],
              "mark": {"type": "tick", "orient": "horizontal", "size": 9, "thickness": 1.5, "opacity": 1},
              "encoding": {"y": {"field": "hi", "type": "quantitative", "title": null, "scale": {"domain": [-0.45, 8.45], "nice": false, "zero": false}, "axis": {"values": [0,1,2,3,4,5,6,7,8], "labels": false}}}
            },
            {
              "data": {"name": "obs"},
              "transform": [{"filter": "datum.p == 'd'"}],
              "mark": {"type": "point", "filled": true, "size": 55, "opacity": 1},
              "encoding": {
                "y": {"field": "v", "type": "quantitative", "title": null, "scale": {"domain": [-0.45, 8.45], "nice": false, "zero": false}, "axis": {"values": [0,1,2,3,4,5,6,7,8], "labels": false}},
                "shape": {"condition": [
                  {"test": "datum.c == '10'", "value": "M-1.35,-0.16L1.35,-0.16L1.35,0.16L-1.35,0.16Z M-0.16,-1.35L0.16,-1.35L0.16,1.35L-0.16,1.35Z M-0.84,-1.07L1.07,0.84L0.84,1.07L-1.07,-0.84Z M-1.07,0.84L0.84,-1.07L1.07,-0.84L-0.84,1.07Z"},
                  {"test": "datum.c == '20'", "value": "square"},
                  {"test": "datum.c == '30'", "value": "circle"},
                  {"test": "datum.c == '40'", "value": "triangle-up"}
                ], "value": "diamond"}
              }
            },
            {
              "data": {"values": []},
              "mark": {"type": "point", "filled": true, "opacity": 1},
              "encoding": {
                "x": null, "color": null,
                "fill": {"field": "c", "type": "nominal", "legend": {"title": null}, "scale": {"domain": ["10","20","30","40","50"], "range": ["#1a1aee","#ffa21a","#1ee61e","#dc9a1e","#f2f20a"]}},
                "shape": {"field": "c", "type": "nominal", "legend": {"title": null}, "scale": {"domain": ["10","20","30","40","50"], "range": [
                  "M-1,-0.08L1,-0.08L1,0.08L-1,0.08Z M-0.07,-0.6L0.07,-0.6L0.07,0.6L-0.07,0.6Z M-0.38,-0.48L0.48,0.38L0.38,0.48L-0.48,-0.38Z M-0.48,0.38L0.38,-0.48L0.48,-0.38L-0.38,0.48Z",
                  "M-1,-0.08L1,-0.08L1,0.08L-1,0.08Z M-0.4,-0.4L0.4,-0.4L0.4,0.4L-0.4,0.4Z",
                  "M-1,-0.08L1,-0.08L1,0.08L-1,0.08Z M0.4,0A0.4,0.4 0 1 1 -0.4,0A0.4,0.4 0 1 1 0.4,0Z",
                  "M-1,-0.08L1,-0.08L1,0.08L-1,0.08Z M0,-0.5L0.5,0.38L-0.5,0.38Z",
                  "M-1,-0.08L1,-0.08L1,0.08L-1,0.08Z M0,-0.42L0.45,0L0,0.42L-0.45,0Z"
                ]}}
              }
            }
          ]
        }
      ]
    }
  ],
  "config": {
    "font": "Liberation Sans",
    "view": {"stroke": "#777777", "strokeWidth": 1},
    "axis": {"domain": false, "grid": false, "labelFontSize": 13, "labelColor": "#111111", "tickColor": "#666666", "tickSize": 3, "labelPadding": 2, "titleFontSize": 13, "titleFontWeight": "normal", "titleColor": "#111111", "labelFlush": false, "labelOverlap": false, "labelBound": false},
    "axisY": {"titlePadding": 4},
    "axisX": {"titlePadding": 2},
    "legend": {"orient": "top-left", "offset": 5, "padding": 0, "symbolSize": 225, "symbolStrokeWidth": 0, "labelFontSize": 13, "labelColor": "#111111", "labelOffset": 4, "rowPadding": 1.7},
    "title": {"font": "Liberation Serif", "fontSize": 13, "fontWeight": "bold", "orient": "bottom", "offset": 10, "color": "#111111"}
  }
}
